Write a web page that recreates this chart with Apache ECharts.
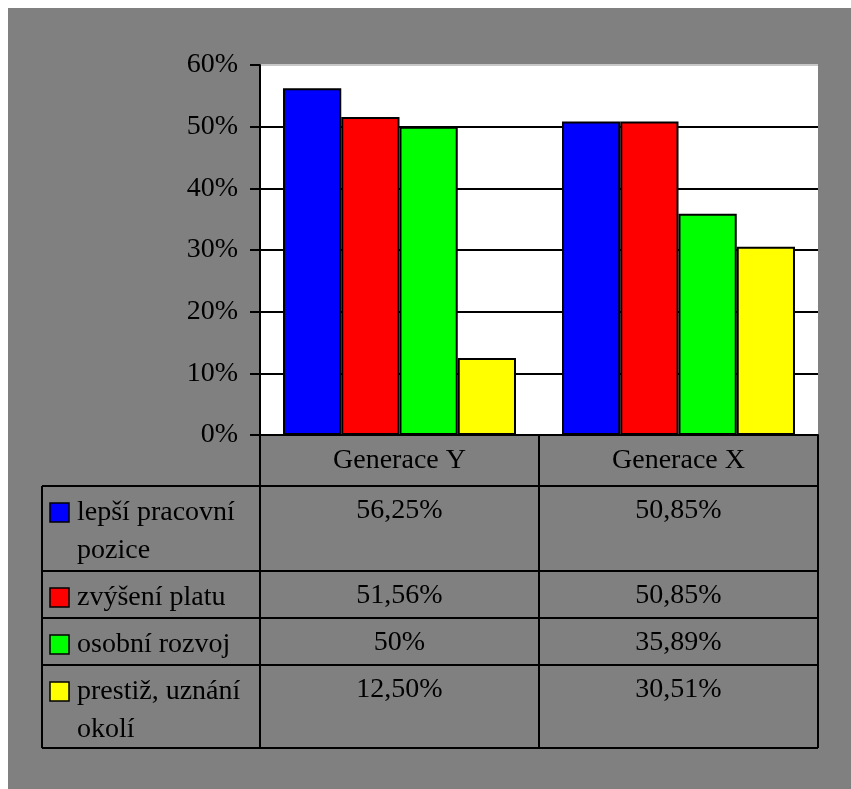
<!DOCTYPE html>
<html>
<head>
<meta charset="utf-8">
<script src="https://cdn.jsdelivr.net/npm/echarts@6/dist/echarts.min.js"></script>
<style>
  html, body { margin: 0; padding: 0; background: #fff; }
  #chart { position: absolute; left: 8px; top: 8px; width: 843px; height: 781px; }
</style>
</head>
<body>
<div id="chart"></div>
<script>
// Groups along the x axis
const categories = ['Generace Y', 'Generace X'];
// Motivation factors (series), one line per entry in the data table
const factors = [
  ['lepší pracovní', 'pozice'],
  ['zvýšení platu'],
  ['osobní rozvoj'],
  ['prestiž, uznání', 'okolí']
];
const factorColors = ['#0000ff', '#ff0000', '#00ff00', '#ffff00'];
// Shares in percent, in the order of `factors`
const generaceY = [56.25, 51.56, 50, 12.5];
const generaceX = [50.85, 50.85, 35.89, 30.51];
// Value axis range
const yMin = 0, yMax = 60, yStep = 10;

const FONT = '"Liberation Serif", "Times New Roman", serif';
const FS = 28;

// Czech number format: integers bare, otherwise two decimals with a comma
function fmt(v) {
  return (Number.isInteger(v) ? String(v) : v.toFixed(2).replace('.', ',')) + '%';
}

const chart = echarts.init(document.getElementById('chart'), null, { renderer: 'canvas' });

// Frame geometry (chart-local pixels)
const W = 843, H = 781;
const plotL = 252, plotR = 810, plotT = 57, plotB = 427;
const colMid = (plotL + plotR) / 2;
const tableL = 34;
const headerB = 478;
const rowTops = [478, 563, 610, 657];
const tableB = 740;

const series = factors.map((lines, i) => ({
  type: 'bar',
  name: lines.join(' '),
  data: [generaceY[i], generaceX[i]],
  barGap: '0%',
  barCategoryGap: '16.5%',
  itemStyle: { color: factorColors[i], borderColor: '#000', borderWidth: 2 },
  emphasis: { disabled: true }
}));

// Data table under the plot
const g = [];
const line = (x1, y1, x2, y2) => g.push({
  type: 'line', shape: { x1, y1, x2, y2 },
  style: { stroke: '#000', lineWidth: 2 }, z: 10
});
const text = (s, x, y, align) => g.push({
  type: 'text', x, y,
  style: { text: s, font: FS + 'px ' + FONT, fill: '#000', align, verticalAlign: 'middle' },
  z: 10
});

line(plotL, plotB, plotL, tableB);
line(colMid, plotB, colMid, tableB);
line(plotR, plotB, plotR, tableB);
line(tableL, headerB, tableL, tableB);
[...rowTops, tableB].forEach(y => line(tableL, y, plotR, y));

const colCenters = [(plotL + colMid) / 2, (colMid + plotR) / 2];
categories.forEach((c, j) => text(c, colCenters[j], plotT + (plotB - plotT) + 26, 'center'));

factors.forEach((lines, i) => {
  const top = rowTops[i];
  g.push({
    type: 'rect', shape: { x: 42, y: top + 17, width: 19, height: 19 },
    style: { fill: factorColors[i], stroke: '#000', lineWidth: 1.5 }, z: 10
  });
  lines.forEach((s, k) => text(s, 69, top + 27 + k * 38, 'left'));
  text(fmt(generaceY[i]), colCenters[0], top + 25, 'center');
  text(fmt(generaceX[i]), colCenters[1], top + 25, 'center');
});

const gridLineColors = [];
for (let v = yMin; v <= yMax; v += yStep) gridLineColors.push(v === yMax ? '#c8c8c8' : '#000');

chart.setOption({
  backgroundColor: '#808080',
  animation: false,
  grid: {
    left: plotL, right: W - plotR, top: plotT, bottom: H - plotB,
    show: true, backgroundColor: '#fff', borderWidth: 0
  },
  xAxis: {
    type: 'category',
    data: categories,
    axisLine: { lineStyle: { color: '#000', width: 2 } },
    axisTick: { show: false },
    axisLabel: { show: false }
  },
  yAxis: {
    type: 'value',
    min: yMin, max: yMax, interval: yStep,
    axisLine: { show: true, lineStyle: { color: '#000', width: 2 } },
    axisTick: { show: true, length: 10, lineStyle: { color: '#000', width: 2 } },
    axisLabel: {
      formatter: v => v + '%', margin: 22,
      fontFamily: FONT, fontSize: FS, color: '#000'
    },
    splitLine: { show: true, lineStyle: { color: gridLineColors, width: 2 } }
  },
  series,
  graphic: g
});
</script>
</body>
</html>
